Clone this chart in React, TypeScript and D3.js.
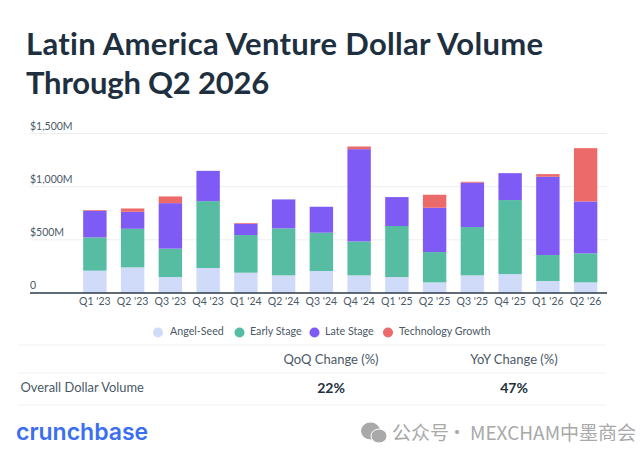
import * as React from "react"
import * as d3 from "d3"

const quarters = ["Q1 '23", "Q2 '23", "Q3 '23", "Q4 '23", "Q1 '24", "Q2 '24", "Q3 '24", "Q4 '24", "Q1 '25", "Q2 '25", "Q3 '25", "Q4 '25", "Q1 '26", "Q2 '26"]
const angelSeed = [210, 241, 150, 235, 191, 166, 207, 166, 150, 100, 166, 178, 113, 100]
const earlyStage = [313, 363, 267, 629, 354, 442, 360, 319, 480, 285, 454, 696, 244, 273]
const lateStage = [250, 160, 428, 285, 106, 272, 244, 868, 272, 417, 417, 253, 736, 488]
const techGrowth = [7, 31, 63, 0, 7, 0, 0, 25, 0, 122, 9, 0, 25, 501]

const stages = ["Angel-Seed", "Early Stage", "Late Stage", "Technology Growth"]
const stageColors = ["#cfdbf9", "#56bda2", "#7f5bf5", "#ec6a6a"]
const yTicks = [0, 500, 1000, 1500]
const tableColumns = ["QoQ Change (%)", "YoY Change (%)"]
const tableValues = ["22%", "47%"]

const font = "Lato, 'Open Sans', sans-serif"
const ink = "#1e3040"
const grey = "#4a5966"

export default function App() {
    const [w, h] = [643, 460]
    const [left, right, top, bottom] = [30, 607, 133.5, 293]

    const rows = quarters.map((q, i) => ({
        q,
        [stages[0]]: angelSeed[i],
        [stages[1]]: earlyStage[i],
        [stages[2]]: lateStage[i],
        [stages[3]]: techGrowth[i],
    }))
    const series = d3.stack<any>().keys(stages)(rows)

    const xScale = d3.scaleBand().domain(quarters).range([76, 604.5]).paddingInner(0.38).paddingOuter(0.19)
    const yScale = d3.scaleLinear().domain([0, 1500]).range([bottom, top])

    const legendDots = [158, 239.5, 314.5, 388]
    const legendText = [170, 250, 325, 399]
    const columnX = [331, 514]

    return (
        <svg width={w} height={h} style={{ position: "absolute", left: 0, top: 0, background: "#fff" }} fontFamily={font}>
            <text x={26} y={55} fontSize={31} fontWeight={700} fill={ink} letterSpacing={0.3}>Latin America Venture Dollar Volume</text>
            <text x={26} y={94} fontSize={31} fontWeight={700} fill={ink} letterSpacing={-0.2}>Through Q2 2026</text>

            {yTicks.map(t => (
                <g key={t}>
                    {t > 0 && <line x1={left} x2={right} y1={yScale(t)} y2={yScale(t)} stroke="#eceef0" strokeWidth={1} />}
                    <text x={left} y={yScale(t) - 4} fontSize={10.5} fill={grey}>
                        {t === 0 ? "0" : `$${d3.format(",")(t)}M`}
                    </text>
                </g>
            ))}

            {series.map((s, i) => (
                <g key={s.key} fill={stageColors[i]}>
                    {s.map((d, j) => d[1] > d[0] ? (
                        <rect
                            key={j}
                            x={xScale(quarters[j])}
                            y={yScale(d[1])}
                            width={xScale.bandwidth()}
                            height={yScale(d[0]) - yScale(d[1])}
                        />
                    ) : null)}
                </g>
            ))}

            <line x1={left} x2={right} y1={bottom} y2={bottom} stroke="#2b3a48" strokeWidth={1.5} />
            {quarters.map(q => (
                <text key={q} x={(xScale(q) ?? 0) + xScale.bandwidth() / 2} y={305} fontSize={10.5} textAnchor="middle" fill={grey}>{q}</text>
            ))}

            {stages.map((s, i) => (
                <g key={s}>
                    <circle cx={legendDots[i]} cy={332.5} r={5} fill={stageColors[i]} />
                    <text x={legendText[i]} y={335} fontSize={10.7} fill={grey}>{s}</text>
                </g>
            ))}

            {[345, 373, 405].map(y => (
                <line key={y} x1={18} x2={606} y1={y} y2={y} stroke="#eff1f2" strokeWidth={1} />
            ))}
            {tableColumns.map((c, i) => (
                <text key={c} x={columnX[i]} y={364} fontSize={13} textAnchor="middle" fill={grey}>{c}</text>
            ))}
            <text x={20.5} y={392} fontSize={12.9} fill={grey}>Overall Dollar Volume</text>
            {tableValues.map((v, i) => (
                <text key={v} x={columnX[i]} y={393} fontSize={14} fontWeight={700} textAnchor="middle" fill={ink}>{v}</text>
            ))}

            <text x={16} y={440} fontSize={23} fontWeight={600} fill="#3b6fef" fontFamily="Inter, sans-serif">crunchbase</text>

            <g fill="#a9a9a9">
                <ellipse cx={370.5} cy={431} rx={9.5} ry={8.5} />
                <ellipse cx={379} cy={436} rx={8} ry={7} stroke="#fff" strokeWidth={1} />
            </g>
            <g fontSize={19} fill="#a9a9a9" fontFamily="'Noto Sans CJK SC', sans-serif">
                <text x={392} y={440}>公众号</text>
                <text x={457} y={440} textAnchor="middle">·</text>
                <text x={470} y={440}>MEXCHAM中墨商会</text>
            </g>
        </svg>
    )
}
